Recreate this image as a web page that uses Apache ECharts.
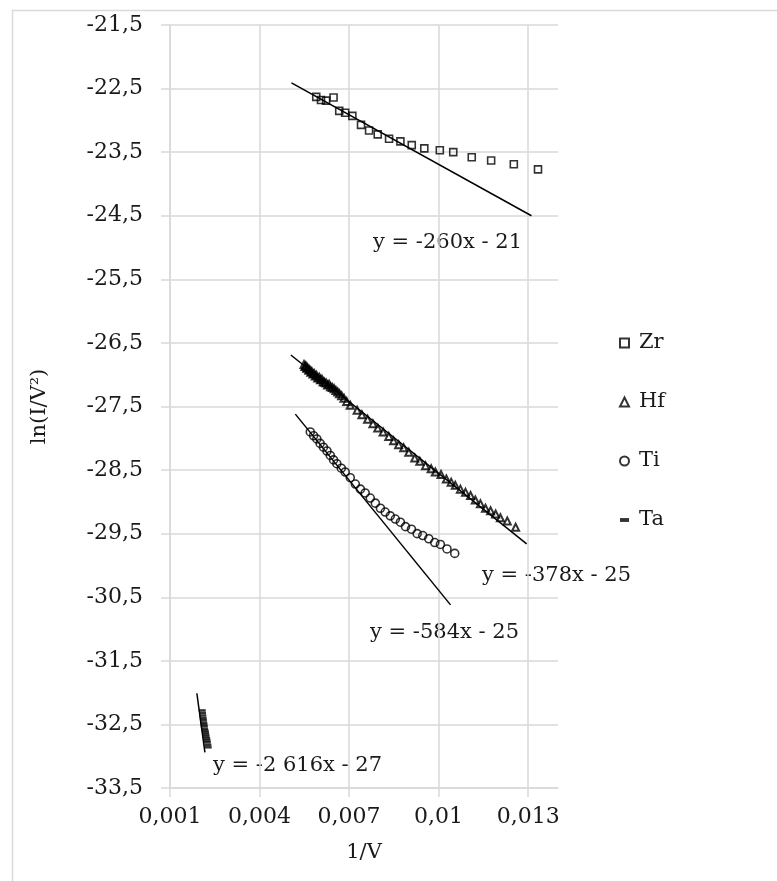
<!doctype html>
<html lang="en">
<head>
    <meta charset="UTF-8">
    <title>ln(I/V2) vs 1/V</title>
    <style>
        html, body { margin: 0; padding: 0; background: #fff; }
        #chart { width: 777px; height: 881px; }
    </style>
</head>
<body>
    <div id="chart"></div>

    <script src="https://cdn.jsdelivr.net/npm/echarts@6/dist/echarts.min.js"></script>
    <script>
        // measured points [1/V, ln(I/V^2)]
        var zrData = [[0.0059,-22.63],[0.00606,-22.68],[0.00623,-22.69],[0.00648,-22.64],[0.00667,-22.85],
            [0.00687,-22.88],[0.00711,-22.93],[0.0074,-23.07],[0.00767,-23.16],[0.00796,-23.22],
            [0.00834,-23.29],[0.00872,-23.33],[0.0091,-23.39],[0.00952,-23.44],[0.01004,-23.47],
            [0.01049,-23.5],[0.01111,-23.58],[0.01176,-23.63],[0.01252,-23.69],[0.01333,-23.77]];

        var hfData = [[0.00549,-26.84],[0.00552,-26.87],[0.00555,-26.86],[0.00558,-26.90],[0.00561,-26.89],
            [0.00565,-26.93],[0.00568,-26.92],[0.00572,-26.96],[0.00575,-26.95],[0.00579,-26.99],
            [0.00583,-26.98],[0.00587,-27.02],[0.00591,-27.01],[0.00595,-27.05],[0.006,-27.04],
            [0.00604,-27.08],[0.00609,-27.07],[0.00613,-27.11],[0.00618,-27.12],[0.00623,-27.13],
            [0.00628,-27.16],[0.00633,-27.15],[0.00638,-27.19],[0.00644,-27.2],[0.0065,-27.22],
            [0.00656,-27.25],[0.00662,-27.27],[0.00668,-27.3],[0.00675,-27.33],[0.00683,-27.37],
            [0.00692,-27.42],[0.00704,-27.48],[0.00727,-27.56],[0.00743,-27.63],[0.00762,-27.7],
            [0.0078,-27.77],[0.00796,-27.84],[0.00814,-27.9],[0.00833,-27.97],[0.00849,-28.04],
            [0.00866,-28.1],[0.00883,-28.15],[0.009,-28.22],[0.0092,-28.31],[0.00937,-28.36],
            [0.00956,-28.43],[0.00975,-28.48],[0.00989,-28.53],[0.01008,-28.57],[0.01026,-28.64],
            [0.01042,-28.69],[0.01056,-28.74],[0.01073,-28.8],[0.0109,-28.85],[0.01107,-28.9],
            [0.01123,-28.97],[0.0114,-29.03],[0.01157,-29.1],[0.01174,-29.14],[0.01191,-29.19],
            [0.01207,-29.25],[0.0123,-29.3],[0.01258,-29.4]];

        var tiData = [[0.0057,-27.9],[0.00581,-27.96],[0.00592,-28.01],[0.00603,-28.08],[0.00614,-28.14],
            [0.00626,-28.2],[0.00637,-28.27],[0.00648,-28.34],[0.00659,-28.4],[0.00674,-28.47],
            [0.00687,-28.53],[0.00704,-28.62],[0.00721,-28.72],[0.00738,-28.8],[0.00754,-28.86],
            [0.00771,-28.94],[0.00788,-29.02],[0.00805,-29.1],[0.00821,-29.16],[0.00838,-29.22],
            [0.00855,-29.27],[0.00872,-29.32],[0.00889,-29.39],[0.00909,-29.43],[0.00928,-29.5],
            [0.00947,-29.53],[0.00967,-29.58],[0.00987,-29.64],[0.01006,-29.67],[0.01028,-29.74],
            [0.01054,-29.81]];

        var taData = [[0.00208,-32.28],[0.00209,-32.32],[0.0021,-32.36],[0.00211,-32.4],[0.00212,-32.43],
            [0.00213,-32.47],[0.00214,-32.5],[0.00215,-32.53],[0.00216,-32.57],[0.00218,-32.6],
            [0.00219,-32.63],[0.0022,-32.66],[0.00221,-32.69],[0.00223,-32.72],[0.00224,-32.75],
            [0.00225,-32.78],[0.00227,-32.82],[0.00228,-32.86]];

        // linear trend lines (end points)
        var zrTrend = [[0.00507,-22.41],[0.01311,-24.5]];
        var hfTrend = [[0.00505,-26.69],[0.01295,-29.66]];
        var tiTrend = [[0.0052,-27.62],[0.0104,-30.62]];
        var taTrend = [[0.0019,-32.01],[0.00217,-32.94]];

        var names = ['Zr', 'Hf', 'Ti', 'Ta'];
        var equations = ['y = -260x - 21', 'y = -378x - 25', 'y = -584x - 25', 'y = -2 616x - 27'];

        var font = 'DejaVu Serif';
        var grey = '#d9d9d9';
        var ink = '#1a1a1a';

        var chart = echarts.init(document.getElementById('chart'));

        function comma(v) {
            return String(+v.toFixed(4)).replace('.', ',');
        }

        var marker = { color: 'rgba(0,0,0,0)', borderColor: '#000', borderWidth: 1.6 };
        var trendStyle = { color: '#000', width: 1.5 };

        function trend(d) {
            return {
                type: 'line', data: d, symbol: 'none', silent: true,
                lineStyle: trendStyle, z: 1
            };
        }

        var eqFont = '21px "DejaVu Serif"';

        var option = {
            animation: false,
            grid: { left: 170, right: 219, top: 25, bottom: 93 },
            legend: {
                orient: 'vertical',
                left: 614,
                top: 327,
                itemWidth: 9,
                itemHeight: 9,
                itemGap: 37,
                textStyle: { fontFamily: font, fontSize: 21, color: ink, lineHeight: 22, padding: [0, 0, 0, 5] },
                data: [
                    { name: names[0], icon: 'rect' },
                    { name: names[1], icon: 'triangle' },
                    { name: names[2], icon: 'circle' },
                    { name: names[3], icon: 'path://M0,0h7v3h-7z' }
                ]
            },
            xAxis: {
                type: 'value',
                min: 0.001,
                max: 0.014,
                interval: 0.003,
                name: '1/V',
                nameLocation: 'middle',
                nameGap: 54,
                nameTextStyle: { fontFamily: font, fontSize: 21, color: ink },
                axisLine: { lineStyle: { color: grey, width: 1.5 } },
                axisTick: { show: true, length: 9, lineStyle: { color: grey, width: 1.5 } },
                axisLabel: {
                    fontFamily: font, fontSize: 22, color: ink, margin: 18,
                    showMaxLabel: false,
                    formatter: comma
                },
                splitLine: { show: true, showMaxLine: false, lineStyle: { color: grey, width: 1.5 } }
            },
            yAxis: {
                type: 'value',
                min: -33.5,
                max: -21.5,
                interval: 1,
                name: 'ln(I/V²)',
                nameLocation: 'middle',
                nameGap: 120,
                nameTextStyle: { fontFamily: font, fontSize: 21, color: ink },
                axisLine: { show: true, lineStyle: { color: grey, width: 1.5 } },
                axisTick: { show: true, length: 9, lineStyle: { color: grey, width: 1.5 } },
                axisLabel: {
                    fontFamily: font, fontSize: 22, color: ink, margin: 27,
                    formatter: comma
                },
                splitLine: { show: true, lineStyle: { color: grey, width: 1.5 } }
            },
            graphic: [
                { type: 'rect', left: 10, top: 8, shape: { width: 800, height: 900 },
                  style: { fill: 'none', stroke: grey, lineWidth: 1.5 }, silent: true },
                { type: 'text', left: 373, top: 232, style: { text: equations[0], font: eqFont, fill: ink } },
                { type: 'text', left: 482, top: 565, style: { text: equations[1], font: eqFont, fill: ink } },
                { type: 'text', left: 370, top: 622, style: { text: equations[2], font: eqFont, fill: ink } },
                { type: 'text', left: 213, top: 755, style: { text: equations[3], font: eqFont, fill: ink } }
            ],
            series: [
                { name: names[0], type: 'scatter', data: zrData, symbol: 'rect', symbolSize: 7, itemStyle: marker, z: 3 },
                { name: names[1], type: 'scatter', data: hfData, symbol: 'triangle', symbolSize: 7,
                  itemStyle: { color: 'rgba(0,0,0,0)', borderColor: '#000', borderWidth: 2 }, z: 3 },
                { name: names[2], type: 'scatter', data: tiData, symbol: 'circle', symbolSize: 8, itemStyle: marker, z: 3 },
                { name: names[3], type: 'scatter', data: taData, symbol: 'rect', symbolSize: [7, 2.5], itemStyle: { color: '#000' }, z: 3 },
                trend(zrTrend),
                trend(hfTrend),
                trend(tiTrend),
                trend(taTrend)
            ]
        };

        chart.setOption(option);
    </script>
</body>
</html>
